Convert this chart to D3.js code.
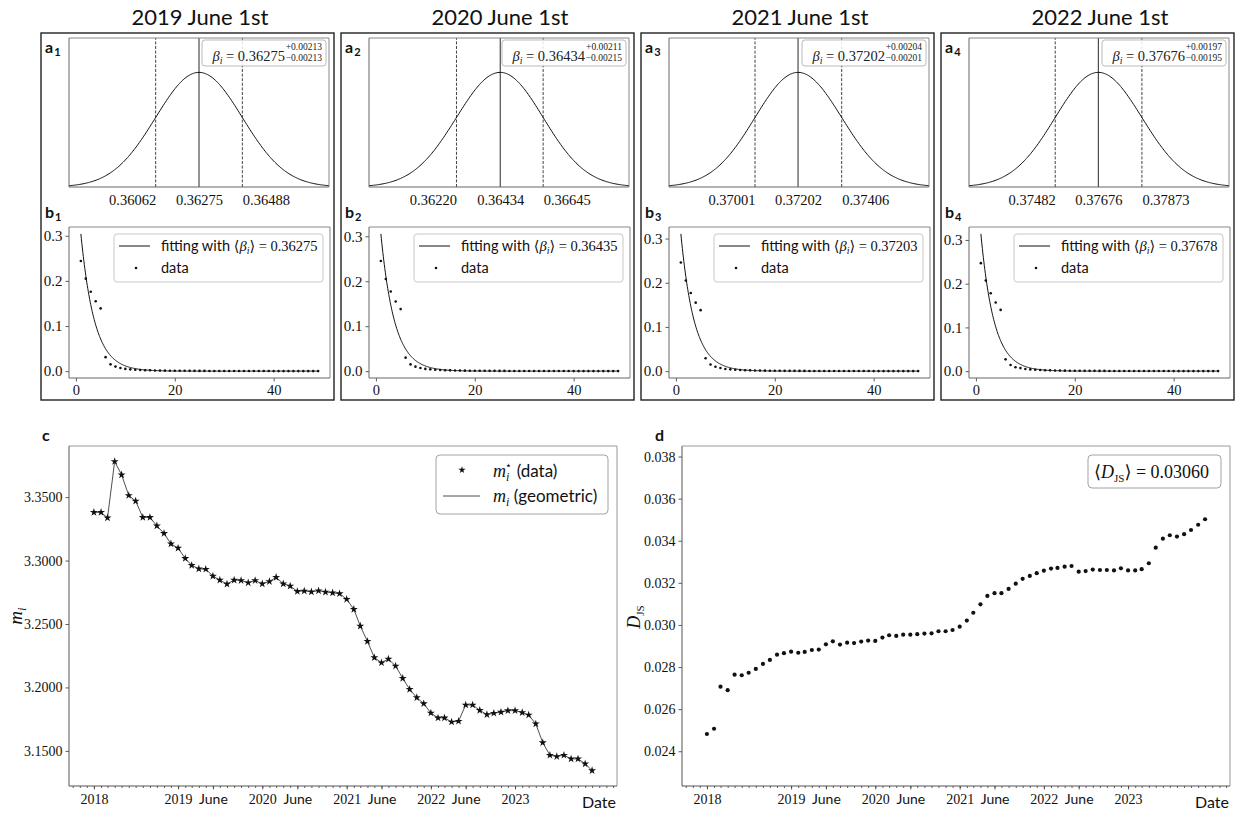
<!DOCTYPE html>
<html>
<head>
<meta charset="utf-8">
<script src="https://cdn.jsdelivr.net/npm/d3@7"></script>
<style>
  html, body { margin: 0; padding: 0; background: #fff; }
  svg { display: block; }
</style>
</head>
<body>
<script>
// ---------- data ----------
const panelTitles = ["2019 June 1st", "2020 June 1st", "2021 June 1st", "2022 June 1st"];
const betaMean  = [0.36275, 0.36434, 0.37202, 0.37676];
const betaPlus  = [0.00213, 0.00211, 0.00204, 0.00197];
const betaMinus = [0.00213, 0.00215, 0.00201, 0.00195];
const betaTickLabels = [
  ["0.36062", "0.36275", "0.36488"],
  ["0.36220", "0.36434", "0.36645"],
  ["0.37001", "0.37202", "0.37406"],
  ["0.37482", "0.37676", "0.37873"]
];
const fitBeta = [0.36275, 0.36435, 0.37203, 0.37678];

// degree frequencies, k = 1..49
const tailFreq = [0.0025, 0.0021, 0.0018, 0.0015, 0.0013, 0.0011, 0.0010, 0.0009, 0.0008, 0.0007,
  0.0006, 0.0006, 0.0005, 0.0005, 0.0004, 0.0004, 0.0004, 0.0003, 0.0003, 0.0003,
  0.0003, 0.0002, 0.0002, 0.0002, 0.0002, 0.0002, 0.0002, 0.0001, 0.0001, 0.0001,
  0.0001, 0.0001, 0.0001, 0.0001, 0.0001, 0.0001, 0.0001];
const freq2019 = [0.244, 0.205, 0.176, 0.155, 0.139, 0.031, 0.015, 0.010, 0.007, 0.005, 0.004, 0.003, ...tailFreq];
const freq2020 = [0.245, 0.205, 0.177, 0.155, 0.138, 0.030, 0.015, 0.010, 0.007, 0.005, 0.004, 0.003, ...tailFreq];
const freq2021 = [0.246, 0.205, 0.177, 0.155, 0.138, 0.029, 0.015, 0.010, 0.007, 0.005, 0.004, 0.003, ...tailFreq];
const freq2022 = [0.247, 0.207, 0.178, 0.157, 0.140, 0.027, 0.014, 0.009, 0.007, 0.005, 0.004, 0.003, ...tailFreq];
const panelFreqs = [freq2019, freq2020, freq2021, freq2022];

// monthly series starting January 2018
const firstMonth = Date.UTC(2018, 0, 1);
const meanDegree = [
  3.3380, 3.3380, 3.3337, 3.3781, 3.3676, 3.3513, 3.3469, 3.3340, 3.3340, 3.3274, 3.3214, 3.3132,
  3.3098, 3.3017, 3.2962, 3.2935, 3.2932, 3.2878, 3.2846, 3.2815, 3.2846, 3.2843, 3.2825, 3.2843,
  3.2817, 3.2835, 3.2868, 3.2817, 3.2799, 3.2757, 3.2760, 3.2754, 3.2762, 3.2752, 3.2746, 3.2739,
  3.2695, 3.2616, 3.2484, 3.2363, 3.2235, 3.2195, 3.2224, 3.2169, 3.2072, 3.1985, 3.1920, 3.1872,
  3.1799, 3.1760, 3.1760, 3.1728, 3.1734, 3.1862, 3.1862, 3.1820, 3.1786, 3.1797, 3.1805, 3.1817,
  3.1817, 3.1802, 3.1783, 3.1713, 3.1565, 3.1466, 3.1456, 3.1466, 3.1437, 3.1437, 3.1398, 3.1345
];
const jsDivergence = [
  0.02482, 0.02507, 0.02707, 0.02690, 0.02764, 0.02761, 0.02773, 0.02791, 0.02815, 0.02834, 0.02859, 0.02866,
  0.02873, 0.02868, 0.02872, 0.02881, 0.02883, 0.02908, 0.02922, 0.02907, 0.02916, 0.02914, 0.02921, 0.02926,
  0.02924, 0.02940, 0.02951, 0.02948, 0.02954, 0.02954, 0.02956, 0.02959, 0.02960, 0.02970, 0.02970, 0.02976,
  0.02992, 0.03021, 0.03058, 0.03098, 0.03138, 0.03151, 0.03151, 0.03171, 0.03196, 0.03219, 0.03233, 0.03246,
  0.03258, 0.03268, 0.03271, 0.03277, 0.03280, 0.03253, 0.03256, 0.03263, 0.03261, 0.03261, 0.03259, 0.03269,
  0.03259, 0.03259, 0.03265, 0.03293, 0.03367, 0.03410, 0.03426, 0.03420, 0.03431, 0.03451, 0.03476, 0.03502
];
const jsMeanLabel = "0.03060";

const dateTickDates  = ["2018-01-01", "2019-01-01", "2019-06-01", "2020-01-01", "2020-06-01",
                        "2021-01-01", "2021-06-01", "2022-01-01", "2022-06-01", "2023-01-01"];
const dateTickLabels = ["2018", "2019", "June", "2020", "June", "2021", "June", "2022", "June", "2023"];
const degreeTicks = [3.15, 3.20, 3.25, 3.30, 3.35];
const jsTicks = [0.024, 0.026, 0.028, 0.030, 0.032, 0.034, 0.036, 0.038];
const jsRange = [0.02235, 0.0385];

// ---------- setup ----------
const SERIF = "'Liberation Serif','DejaVu Serif',serif";
const SANS = "Lato,'DejaVu Sans',sans-serif";
const W = 1236, H = 813;

const svg = d3.select("body").append("svg").attr("width", W).attr("height", H);
svg.append("rect").attr("width", W).attr("height", H).attr("fill", "#fff");

function styleTicks(g, serif = true, size = 14) {
  g.select(".domain").remove();
  g.selectAll(".tick line").attr("stroke", "#333").attr("stroke-width", 0.8);
  g.selectAll(".tick text").attr("font-family", serif ? SERIF : SANS)
    .attr("font-size", size).attr("fill", "#111");
}

function spines(g, x0, y0, x1, y1, dark, light) {
  const s = [[x0, y0, x1, y0, light], [x1, y0, x1, y1, light], [x0, y1, x1, y1, dark], [x0, y0, x0, y1, dark]];
  s.forEach(([a, b, c, d, col]) => g.append("line").attr("x1", a).attr("y1", b).attr("x2", c).attr("y2", d)
    .attr("stroke", col).attr("stroke-width", 1));
}

function panelLabel(g, x, y, letter, sub) {
  const t = g.append("text").attr("x", x).attr("y", y).attr("font-family", SANS)
    .attr("font-weight", 700).attr("font-size", 16).attr("fill", "#111");
  t.append("tspan").text(letter);
  if (sub) t.append("tspan").attr("font-size", 11).attr("dy", 3).attr("dx", 1).text(sub);
}

// ---------- top row: posterior of beta and degree distribution ----------
panelTitles.forEach((title, k) => {
  const ox = 300 * k;
  const g = svg.append("g").attr("transform", `translate(${ox},0)`);

  g.append("rect").attr("x", 41).attr("y", 33).attr("width", 293).attr("height", 367)
    .attr("fill", "none").attr("stroke", "#222").attr("stroke-width", 1.4);

  g.append("text").attr("x", 200).attr("y", 25).attr("text-anchor", "middle")
    .attr("font-family", SANS).attr("font-size", 22).attr("fill", "#111").text(title);

  // (a) posterior density of beta
  const mu = betaMean[k], sm = betaMinus[k], sp = betaPlus[k];
  const ax = d3.scaleLinear().domain([mu - 3 * sm, mu + 3 * sp]).range([69, 329]);
  const ay = d3.scaleLinear().domain([0, 1.3]).range([187, 38]);
  const grid = d3.range(241).map(i => ax.invert(69 + i * 260 / 240));
  const density = v => Math.exp(-0.5 * ((v - mu) / (v < mu ? sm : sp)) ** 2);

  g.append("path").datum(grid)
    .attr("d", d3.line().x(v => ax(v)).y(v => ay(density(v))))
    .attr("fill", "none").attr("stroke", "#111").attr("stroke-width", 1);

  [mu - sm, mu + sp].forEach(v => g.append("line")
    .attr("x1", ax(v)).attr("x2", ax(v)).attr("y1", ay(0)).attr("y2", 38)
    .attr("stroke", "#111").attr("stroke-width", 0.8).attr("stroke-dasharray", "3,1.6"));
  g.append("line").attr("x1", ax(mu)).attr("x2", ax(mu)).attr("y1", ay(0)).attr("y2", 38)
    .attr("stroke", "#111").attr("stroke-width", 0.9);

  const axA = g.append("g").attr("transform", "translate(0,187)")
    .call(d3.axisBottom(ax).tickValues([mu - sm, mu, mu + sp])
      .tickFormat((d, i) => betaTickLabels[k][i]).tickSize(0).tickPadding(8));
  styleTicks(axA, true, 14.5);
  // outer labels sit beside their dashed lines
  axA.selectAll(".tick text").attr("text-anchor", (d, i) => ["end", "middle", "start"][i]);
  spines(g, 69, 38, 329, 187, "#666", "#888");

  // legend box with the credible interval
  g.append("rect").attr("x", 202).attr("y", 40).attr("width", 124).attr("height", 26).attr("rx", 3)
    .attr("fill", "#fff").attr("fill-opacity", 0.85).attr("stroke", "#aaa").attr("stroke-width", 0.8);
  const lt = g.append("text").attr("x", 285).attr("y", 61).attr("text-anchor", "end")
    .attr("font-family", SERIF).attr("font-size", 14.5).attr("fill", "#222");
  lt.append("tspan").attr("font-style", "italic").text("β");
  lt.append("tspan").attr("font-style", "italic").attr("font-size", 10).attr("dy", 3).text("i");
  lt.append("tspan").attr("dy", -3).text(" = " + d3.format(".5f")(mu));
  g.append("text").attr("x", 322).attr("y", 50).attr("text-anchor", "end").attr("font-family", SERIF)
    .attr("font-size", 9.5).attr("fill", "#222").text("+" + d3.format(".5f")(sp));
  g.append("text").attr("x", 322).attr("y", 61).attr("text-anchor", "end").attr("font-family", SERIF)
    .attr("font-size", 9.5).attr("fill", "#222").text("−" + d3.format(".5f")(sm));

  panelLabel(g, 45, 53, "a", String(k + 1));

  // (b) degree distribution and fitted model
  const freqs = panelFreqs[k];
  const beta = fitBeta[k];
  const model = x => (1 - Math.exp(-beta)) * Math.exp(-beta * (x - 1));
  const n = freqs.length;
  const pad = (n - 1) * 0.05;
  const bx = d3.scaleLinear().domain([1 - pad, n + pad]).range([69, 330]);
  const yTop = model(1);
  const by = d3.scaleLinear().domain([-yTop * 0.05, yTop * 1.05]).range([378, 227]);

  const kGrid = d3.range(1, n + 0.001, 0.1);
  g.append("path").datum(kGrid)
    .attr("d", d3.line().x(x => bx(x)).y(x => by(model(x))))
    .attr("fill", "none").attr("stroke", "#111").attr("stroke-width", 1);

  g.append("g").selectAll("circle").data(freqs).join("circle")
    .attr("cx", (d, i) => bx(i + 1)).attr("cy", d => by(d)).attr("r", 1.3).attr("fill", "#111");

  const bxAxis = g.append("g").attr("transform", "translate(0,378)")
    .call(d3.axisBottom(bx).tickValues([0, 20, 40]).tickFormat(d3.format("d")).tickSize(3.5).tickPadding(3));
  styleTicks(bxAxis, true, 14.5);
  const byAxis = g.append("g").attr("transform", "translate(69,0)")
    .call(d3.axisLeft(by).tickValues([0, 0.1, 0.2, 0.3]).tickFormat(d3.format(".1f")).tickSize(3.5).tickPadding(3));
  styleTicks(byAxis, true, 15);
  spines(g, 69, 227, 330, 378, "#666", "#888");

  // legend
  g.append("rect").attr("x", 114).attr("y", 234).attr("width", 209).attr("height", 48).attr("rx", 3)
    .attr("fill", "#fff").attr("fill-opacity", 0.85).attr("stroke", "#bbb").attr("stroke-width", 0.8);
  g.append("line").attr("x1", 119).attr("x2", 150).attr("y1", 246).attr("y2", 246)
    .attr("stroke", "#111").attr("stroke-width", 1);
  g.append("circle").attr("cx", 136).attr("cy", 268).attr("r", 1.3).attr("fill", "#111");
  const ft = g.append("text").attr("x", 161).attr("y", 251).attr("font-size", 14.5).attr("fill", "#111");
  ft.append("tspan").attr("font-family", SANS).text("fitting with ");
  ft.append("tspan").attr("font-family", SERIF).text("⟨");
  ft.append("tspan").attr("font-family", SERIF).attr("font-style", "italic").text("β");
  ft.append("tspan").attr("font-family", SERIF).attr("font-style", "italic").attr("font-size", 10).attr("dy", 3).text("i");
  ft.append("tspan").attr("font-family", SERIF).attr("dy", -3).text("⟩ = " + d3.format(".5f")(beta));
  g.append("text").attr("x", 161).attr("y", 273).attr("font-family", SANS).attr("font-size", 14.5)
    .attr("fill", "#111").text("data");

  panelLabel(g, 45, 218, "b", String(k + 1));
});

// ---------- bottom row: time series ----------
const months = meanDegree.map((_, i) => d3.utcMonth.offset(new Date(firstMonth), i));
const [t0, t1] = d3.extent(months);
const tPad = (t1 - t0) * 0.05;
const timeDomain = [new Date(+t0 - tPad), new Date(+t1 + tPad)];
const majorDates = dateTickDates.map(s => new Date(s + "T00:00:00Z"));
const minorDates = d3.utcMonth.range(d3.utcMonth.ceil(timeDomain[0]), timeDomain[1]);

function dateAxis(g, x, y0) {
  const minor = g.append("g").attr("transform", `translate(0,${y0})`)
    .call(d3.axisBottom(x).tickValues(minorDates).tickFormat("").tickSize(2));
  styleTicks(minor);
  const major = g.append("g").attr("transform", `translate(0,${y0})`)
    .call(d3.axisBottom(x).tickValues(majorDates).tickFormat((d, i) => dateTickLabels[i]).tickSize(3.5).tickPadding(5));
  styleTicks(major, true, 14);
  major.selectAll(".tick text").filter(function () { return this.textContent === "June"; })
    .attr("font-family", SANS).attr("font-size", 14);
}

// (c) mean degree
{
  const L = 69, R = 617, T = 446, B = 786;
  const g = svg.append("g");
  const x = d3.scaleUtc().domain(timeDomain).range([L, R]);
  const [lo, hi] = d3.extent(meanDegree);
  const yp = (hi - lo) * 0.05;
  const y = d3.scaleLinear().domain([lo - yp, hi + yp]).range([B, T]);

  g.append("path").datum(meanDegree)
    .attr("d", d3.line().x((d, i) => x(months[i])).y(d => y(d)))
    .attr("fill", "none").attr("stroke", "#222").attr("stroke-width", 0.8);
  const star = d3.symbol(d3.symbolStar, 20);
  g.append("g").selectAll("path").data(meanDegree).join("path")
    .attr("d", star).attr("transform", (d, i) => `translate(${x(months[i])},${y(d)})`).attr("fill", "#111");

  dateAxis(g, x, B);
  const ya = g.append("g").attr("transform", `translate(${L},0)`)
    .call(d3.axisLeft(y).tickValues(degreeTicks).tickFormat(d3.format(".4f")).tickSize(3.5).tickPadding(3));
  styleTicks(ya, true, 14);
  spines(g, L, T, R, B, "#555", "#999");

  g.append("text").attr("x", R - 1).attr("y", 808).attr("text-anchor", "end").attr("font-family", SANS)
    .attr("font-size", 16).attr("fill", "#111").text("Date");
  const yl = g.append("text").attr("transform", "translate(22,616) rotate(-90)").attr("text-anchor", "middle")
    .attr("font-family", SERIF).attr("font-size", 19).attr("fill", "#111");
  yl.append("tspan").attr("font-style", "italic").text("m");
  yl.append("tspan").attr("font-style", "italic").attr("font-size", 13).attr("dy", 4).text("i");

  // legend
  g.append("rect").attr("x", 436).attr("y", 455).attr("width", 172).attr("height", 59).attr("rx", 4)
    .attr("fill", "#fff").attr("stroke", "#999").attr("stroke-width", 0.9);
  g.append("path").attr("d", d3.symbol(d3.symbolStar, 16)).attr("transform", "translate(462,470)").attr("fill", "#111");
  g.append("line").attr("x1", 443).attr("x2", 480).attr("y1", 496).attr("y2", 496).attr("stroke", "#222").attr("stroke-width", 0.8);
  const l1 = g.append("text").attr("x", 493).attr("y", 477).attr("font-size", 18).attr("fill", "#111");
  l1.append("tspan").attr("font-family", SERIF).attr("font-style", "italic").text("m");
  l1.append("tspan").attr("font-family", SERIF).attr("font-style", "italic").attr("font-size", 12).attr("dy", 4).text("i");
  l1.append("tspan").attr("font-family", SERIF).attr("font-size", 11).attr("dx", -4).attr("dy", -12).text("⋆");
  l1.append("tspan").attr("font-family", SANS).attr("font-size", 17).attr("dy", 8).text(" (data)");
  const l2 = g.append("text").attr("x", 493).attr("y", 502).attr("font-size", 18).attr("fill", "#111");
  l2.append("tspan").attr("font-family", SERIF).attr("font-style", "italic").text("m");
  l2.append("tspan").attr("font-family", SERIF).attr("font-style", "italic").attr("font-size", 12).attr("dy", 4).text("i");
  l2.append("tspan").attr("font-family", SANS).attr("font-size", 17).attr("dy", -4).text(" (geometric)");

  panelLabel(g, 42, 441, "c");
}

// (d) Jensen-Shannon divergence
{
  const L = 682, R = 1230, T = 446, B = 786;
  const g = svg.append("g");
  const x = d3.scaleUtc().domain(timeDomain).range([L, R]);
  const y = d3.scaleLinear().domain(jsRange).range([B, T]);

  g.append("g").selectAll("circle").data(jsDivergence).join("circle")
    .attr("cx", (d, i) => x(months[i])).attr("cy", d => y(d)).attr("r", 2.1).attr("fill", "#111");

  dateAxis(g, x, B);
  const ya = g.append("g").attr("transform", `translate(${L},0)`)
    .call(d3.axisLeft(y).tickValues(jsTicks).tickFormat(d3.format(".3f")).tickSize(3.5).tickPadding(3));
  styleTicks(ya, true, 14);
  spines(g, L, T, R, B, "#555", "#999");

  g.append("text").attr("x", R - 1).attr("y", 808).attr("text-anchor", "end").attr("font-family", SANS)
    .attr("font-size", 16).attr("fill", "#111").text("Date");
  const yl = g.append("text").attr("transform", "translate(640,617) rotate(-90)").attr("text-anchor", "middle")
    .attr("font-family", SERIF).attr("font-size", 18).attr("fill", "#111");
  yl.append("tspan").attr("font-style", "italic").text("D");
  yl.append("tspan").attr("font-size", 11).attr("dy", 4).text("JS");

  g.append("rect").attr("x", 1088).attr("y", 455).attr("width", 133).attr("height", 33).attr("rx", 4)
    .attr("fill", "#fff").attr("stroke", "#999").attr("stroke-width", 0.9);
  const lt = g.append("text").attr("x", 1094).attr("y", 478).attr("font-family", SERIF)
    .attr("font-size", 18).attr("fill", "#111");
  lt.append("tspan").text("⟨");
  lt.append("tspan").attr("font-style", "italic").text("D");
  lt.append("tspan").attr("font-size", 11).attr("dy", 4).text("JS");
  lt.append("tspan").attr("dy", -4).text("⟩ = " + jsMeanLabel);

  panelLabel(g, 655, 441, "d");
}
</script>
</body>
</html>
